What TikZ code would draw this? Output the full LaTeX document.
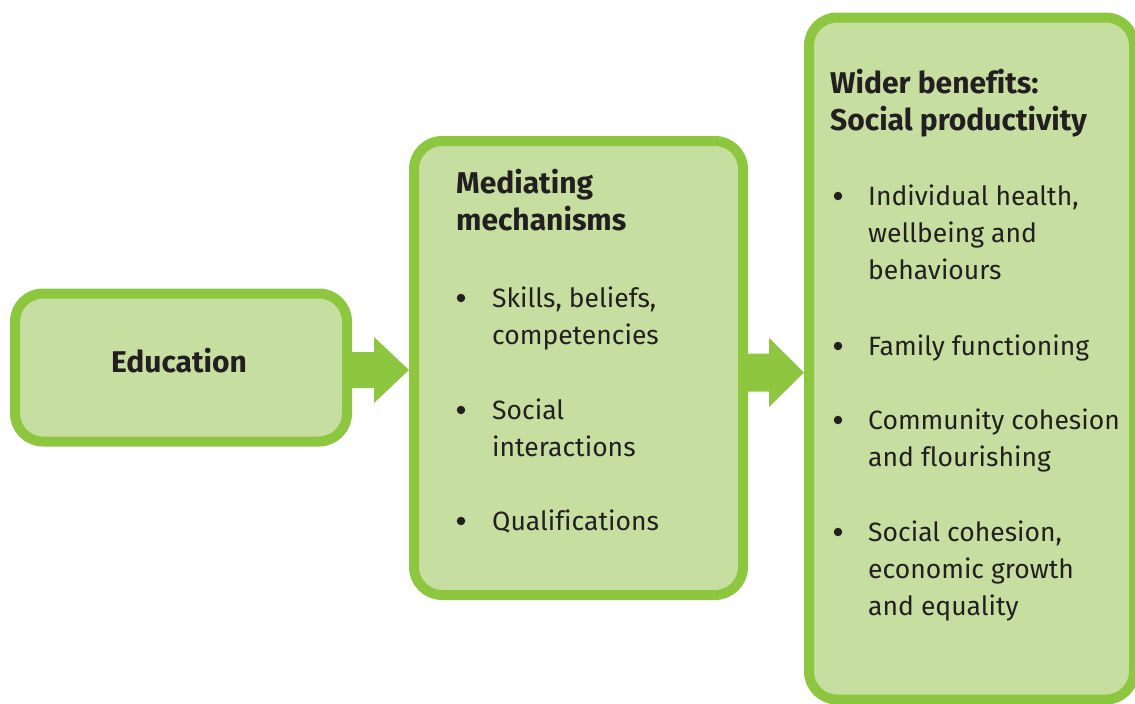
\documentclass[tikz,border=0pt]{standalone}
\usepackage{fontspec}
\setmainfont{Fira Sans}[Ligatures=CommonOff]
\usetikzlibrary{calc}
\definecolor{gborder}{HTML}{8DC63F}
\definecolor{gfill}{HTML}{C6DFA1}
\definecolor{txt}{HTML}{231F20}
\newcommand{\lines}[1]{\begin{tabular}[t]{@{}l@{}}#1\end{tabular}}
\begin{document}
\begin{tikzpicture}[x=1pt,y=-1pt,
  box/.style={draw=gborder, fill=gfill, line width=10pt, rounded corners=28pt, inner sep=0pt},
  heading/.style={font=\fontsize{30}{37.5}\selectfont\bfseries, text=txt, anchor=base west, inner sep=0pt},
  itemtext/.style={font=\fontsize{26.5}{37}\selectfont, text=txt, anchor=base west, inner sep=0pt},
  dot/.style={circle, fill=txt, minimum size=8.5pt, inner sep=0pt},
  connector/.style={fill=gborder}]
\useasboundingbox (0,0) rectangle (1135,704);

% boxes
\node[box, minimum width=332pt, minimum height=148pt] (edu) at (181,367.5) {};
\node[box, minimum width=329pt, minimum height=454pt] (mech) at (578.5,368) {};
\node[box, minimum width=325pt, minimum height=682pt] (wider) at (971.5,358.5) {};

% block arrows (connectors)
\path (edu.east |- 0,370) coordinate (a1s) (mech.west |- 0,370) coordinate (a1e);
\fill[connector] ($(a1s)+(-3,-18)$) -- ($(a1e)+(-35,-18)$) -- ($(a1e)+(-35,-33)$) -- (a1e)
  -- ($(a1e)+(-35,33)$) -- ($(a1e)+(-35,18)$) -- ($(a1s)+(-3,18)$) -- cycle;
\path (mech.east |- 0,372.5) coordinate (a2s) (wider.west |- 0,372.5) coordinate (a2e);
\fill[connector] ($(a2s)+(-3,-19)$) -- ($(a2e)+(-35,-19)$) -- ($(a2e)+(-35,-34.5)$) -- (a2e)
  -- ($(a2e)+(-35,34.5)$) -- ($(a2e)+(-35,19)$) -- ($(a2s)+(-3,19)$) -- cycle;

% Education
\node[font=\fontsize{30}{37.5}\selectfont\bfseries, text=txt, anchor=base, inner sep=0pt] (edut) at (179,372) {Education};

% Mediating mechanisms
\node[heading] (mecht) at (456,193) {\lines{Mediating\\mechanisms}};
\node[dot] (md1) at (461,298) {};
\node[itemtext] (mi1) at (492,307) {\lines{Skills, beliefs,\\competencies}};
\node[dot] (md2) at (461,410) {};
\node[itemtext] (mi2) at (492,419) {\lines{Social\\interactions}};
\node[dot] (md3) at (461,521) {};
\node[itemtext] (mi3) at (492,530) {Qualifications};

% Wider benefits
\node[heading] (widert) at (830,93) {\lines{Wider benefits:\\Social productivity}};
\node[dot] (wd1) at (838,196) {};
\node[itemtext] (wi1) at (868,205) {\lines{Individual health,\\wellbeing and\\behaviours}};
\node[dot] (wd2) at (838,346) {};
\node[itemtext] (wi2) at (868,355) {Family functioning};
\node[dot] (wd3) at (838,420) {};
\node[itemtext] (wi3) at (868,429) {\lines{Community cohesion\\and flourishing}};
\node[dot] (wd4) at (838,532) {};
\node[itemtext] (wi4) at (868,541) {\lines{Social cohesion,\\economic growth\\and equality}};
\end{tikzpicture}
\end{document}
